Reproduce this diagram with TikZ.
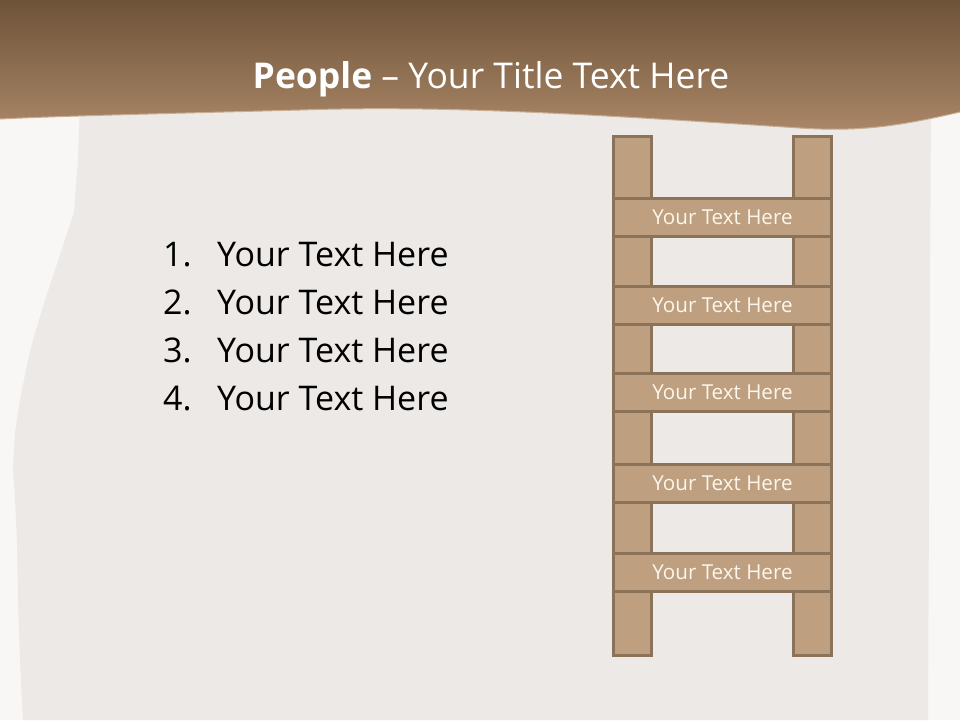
\documentclass[tikz,border=0pt]{standalone}
\usepackage{fontspec}
\setmainfont{Open Sans}
\usepackage{tikz}
\usetikzlibrary{calc,positioning,backgrounds}
\definecolor{pagewhite}{HTML}{F8F7F5}
\definecolor{papergrey}{HTML}{ECE9E6}
\definecolor{banddark}{HTML}{6E5339}
\definecolor{bandlight}{HTML}{AA8767}
\definecolor{bandedge}{HTML}{C9AD92}
\definecolor{woodfill}{HTML}{BEA080}
\definecolor{woodline}{HTML}{8B735A}
\definecolor{woodtext}{HTML}{FDF6EC}

\begin{document}
\begin{tikzpicture}[x=1pt,y=-1pt,
    rail/.style={draw=woodline,fill=woodfill,line width=3pt,minimum width=38pt,minimum height=519pt,inner sep=0pt},
    rung/.style={draw=woodline,fill=woodfill,line width=3pt,minimum width=218pt,minimum height=38pt,inner sep=0pt,
      text=woodtext,font=\fontsize{20.6}{24}\selectfont},
    listtext/.style={anchor=base west,inner sep=0pt,font=\fontsize{34}{40}\selectfont}]
    \useasboundingbox (0,0) rectangle (960,720);
    \fill[pagewhite] (0,0) rectangle (960,720);
    % torn sheet of paper
    \fill[papergrey] (80,100) -- (78,160) -- (74,212) -- (60,255) -- (45,300) -- (33,340) -- (28,360)
      -- (20,400) -- (15,433) -- (13,467) -- (15,500) -- (17,540) -- (18,600) -- (20,660) -- (23,720)
      -- (928,720) -- (929,500) -- (930,300) -- (931,100) -- cycle;
    % title band
    \shade[top color=banddark,bottom color=bandlight]
      (0,0) -- (960,0) -- (960,112) .. controls (900,126) and (860,132) .. (800,128)
      .. controls (600,115) and (450,105) .. (300,110) .. controls (150,114) and (60,116) .. (0,119) -- cycle;
    \draw[bandedge,line width=1pt] (960,112) .. controls (900,126) and (860,132) .. (800,128)
      .. controls (600,115) and (450,105) .. (300,110) .. controls (150,114) and (60,116) .. (0,119);
    \node (title) [anchor=base,inner sep=0pt,text=white,font=\fontsize{35.5}{40}\selectfont]
      at (491,88) {\textbf{People} – Your Title Text Here};
    % numbered list
    \foreach \n/\y in {1/266, 2/314, 3/362, 4/410} {
      \node (num\n) [listtext] at (163,\y) {\n.};
      \node (item\n) [listtext] at (217,\y) {Your Text Here};
    }
    % ladder
    \node (leftrail) [rail] at (632.5,396) {};
    \node (rightrail) [rail] at (812.5,396) {};
    \foreach \i/\y in {1/217, 2/305, 3/392.5, 4/483, 5/572.5} {
      \node (rung\i) [rung] at (722.5,\y) {Your Text Here};
    }
  \end{tikzpicture}
\end{document}
